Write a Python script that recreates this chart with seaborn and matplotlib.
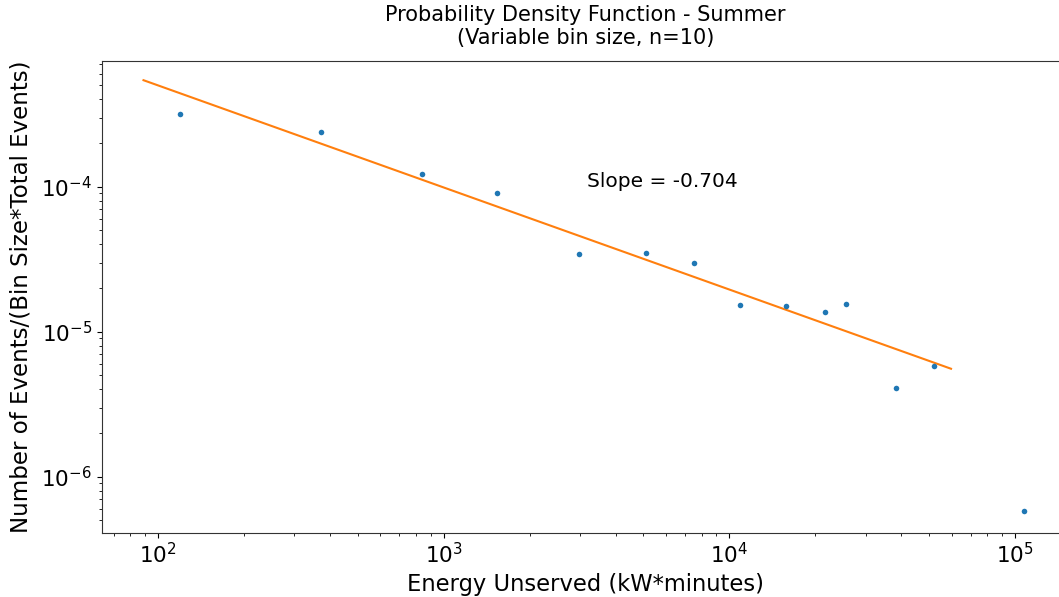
import matplotlib
matplotlib.use("Agg")
import matplotlib.pyplot as plt
import seaborn as sns
import numpy as np
import pandas as pd

# Data
energy = [119, 373, 837, 1533, 2982, 5109, 7503, 10910, 15790, 21640, 25630, 38350, 52170, 107700]
density = [3.17e-4, 2.37e-4, 1.23e-4, 9.09e-5, 3.44e-5, 3.49e-5, 2.96e-5, 1.53e-5, 1.50e-5,
           1.374e-5, 1.545e-5, 4.07e-6, 5.80e-6, 5.77e-7]
slope = -0.704
log_intercept = -1.893
fit_x_range = [89, 59700]

title = "Probability Density Function - Summer\n(Variable bin size, n=10)"
xlabel = "Energy Unserved (kW*minutes)"
ylabel = "Number of Events/(Bin Size*Total Events)"

df = pd.DataFrame({"energy": energy, "density": density})
fx = np.array(fit_x_range, dtype=float)
fit_df = pd.DataFrame({"x": fx, "y": 10 ** log_intercept * fx ** slope})

plt.rcParams['font.family'] = ['DejaVu Sans']
fig = plt.figure(figsize=(10.59, 5.97), dpi=100)
ax = fig.add_axes([0.096, 0.1077, 1.01 - 0.096, 0.8983 - 0.1077])

sns.scatterplot(data=df, x="energy", y="density", ax=ax, color="#1f77b4", s=16, linewidth=0, zorder=3)
sns.lineplot(data=fit_df, x="x", y="y", ax=ax, color="#ff7f0e", linewidth=1.5)

ax.set_xscale("log")
ax.set_yscale("log")
ax.set_xlim(10 ** 1.803, 10 ** 5.191)
ax.set_ylim(10 ** -6.386, 10 ** -3.131)

ax.text(3174, 1.095e-4, f"Slope = {slope}", ha="left", va="center", fontsize=14.5)
ax.set_title(title, fontsize=15, pad=12)
ax.set_xlabel(xlabel, fontsize=16.3, labelpad=4)
ax.set_ylabel(ylabel, fontsize=16.5, labelpad=6)
ax.tick_params(axis="both", which="major", labelsize=15.5)
for s in ax.spines.values():
    s.set_color("#333333")

fig.savefig("out.png", dpi=100)
